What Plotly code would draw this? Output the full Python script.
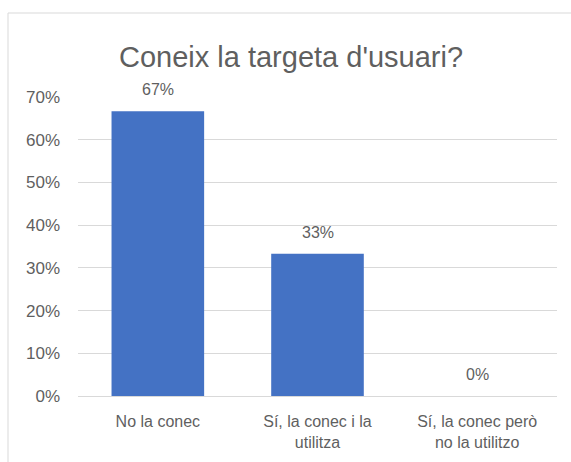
import plotly.graph_objects as go

categories = ["No la conec", "Sí, la conec i la<br>utilitza", "Sí, la conec però<br>no la utilitzo"]
values = [66.67, 33.33, 0.0]
y_ticks = [0, 10, 20, 30, 40, 50, 60, 70]
y_tick_labels = ["0%", "10%", "20%", "30%", "40%", "50%", "60%", "70%"]
title_text = "Coneix la targeta d'usuari?"

GRAY = "#5f5f5f"
FONT = "Liberation Sans, Arial, sans-serif"

W, H = 571, 462
L, R, T, B = 78, 14, 97, 66
pw, ph = W - L - R, H - T - B

def px_x(p):
    return (p - L) / pw

def px_y(p):
    return (H - B - p) / ph

fig = go.Figure()
fig.add_trace(go.Bar(
    x=categories, y=values,
    marker=dict(color="#4472C4", line=dict(width=0)),
    width=0.58,
    hoverinfo="skip",
))

annotations = []
for c, v in zip(categories, values):
    annotations.append(dict(
        x=c, y=v, xref="x", yref="y",
        text=f"{round(v)}%", showarrow=False,
        yanchor="bottom", yshift=11,
        font=dict(family=FONT, size=16, color=GRAY),
    ))

fig.update_layout(
    width=W, height=H,
    margin=dict(l=L, r=R, t=T, b=B, autoexpand=False),
    paper_bgcolor="white", plot_bgcolor="white",
    showlegend=False,
    font=dict(family=FONT, color=GRAY),
    title=dict(
        text=title_text, xref="paper", x=px_x(291), xanchor="center",
        yref="container", y=1 - 57 / H, yanchor="middle",
        font=dict(family=FONT, size=29, color=GRAY),
    ),
    annotations=annotations,
    shapes=[dict(
        type="rect", xref="paper", yref="paper",
        x0=px_x(8), x1=px_x(576), y0=px_y(475), y1=px_y(13),
        line=dict(color="#d9d9d9", width=1), fillcolor="rgba(0,0,0,0)",
        layer="below",
    )],
    bargap=0.42,
)

fig.update_xaxes(
    showgrid=False, showline=False, zeroline=False,
    tickfont=dict(family=FONT, size=16, color=GRAY),
    ticks="", ticklabelstandoff=14,
)
fig.update_yaxes(
    range=[0, 70], tickmode="array", tickvals=y_ticks, ticktext=y_tick_labels,
    showgrid=True, gridcolor="#d9d9d9", gridwidth=1,
    zeroline=True, zerolinecolor="#d9d9d9", zerolinewidth=1,
    showline=False, ticks="", ticklabelstandoff=17,
    tickfont=dict(family=FONT, size=17, color=GRAY),
)

fig.write_html("out.html", config={"displayModeBar": False},
               post_script="document.body.style.margin='0';")
